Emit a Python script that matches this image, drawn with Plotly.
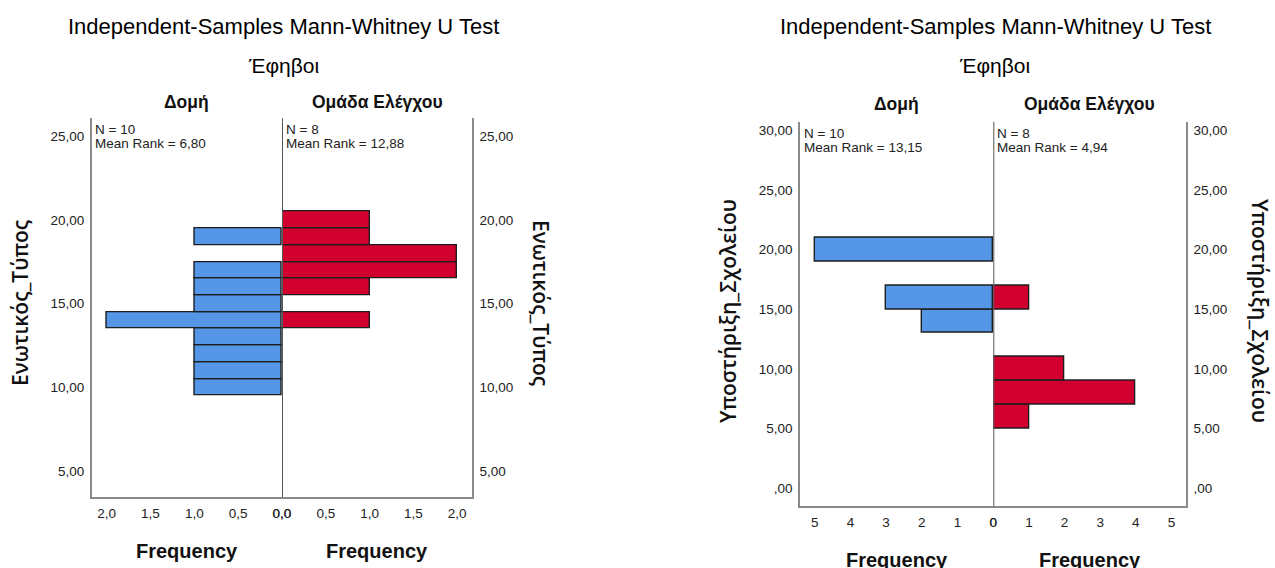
import plotly.graph_objects as go

W, H = 1275, 568

# Panel 1: Ενωτικός_Τύπος (bins of width 1)
bins_1 = [10, 11, 12, 13, 14, 15, 16, 17, 18, 19, 20]
domi_1 = [1, 1, 1, 1, 2, 1, 1, 1, 0, 1, 0]
elegxou_1 = [0, 0, 0, 0, 1, 0, 1, 2, 2, 1, 1]
stats_1 = {"domi": ("N = 10", "Mean Rank = 6,80"), "elegxou": ("N = 8", "Mean Rank = 12,88")}
ytick_vals_1 = [5, 10, 15, 20, 25]
ytick_text_1 = ["5,00", "10,00", "15,00", "20,00", "25,00"]
xtick_vals_1 = [0, 0.5, 1, 1.5, 2]
xtick_text_1 = ["0,0", "0,5", "1,0", "1,5", "2,0"]

# Panel 2: Υποστήριξη_Σχολείου (bins of width 2)
bins_2 = [6, 8, 10, 12, 14, 16, 18, 20]
domi_2 = [0, 0, 0, 0, 2, 3, 0, 5]
elegxou_2 = [1, 4, 2, 0, 0, 1, 0, 0]
stats_2 = {"domi": ("N = 10", "Mean Rank = 13,15"), "elegxou": ("N = 8", "Mean Rank = 4,94")}
ytick_vals_2 = [0, 5, 10, 15, 20, 25, 30]
ytick_text_2 = [",00", "5,00", "10,00", "15,00", "20,00", "25,00", "30,00"]
xtick_vals_2 = [0, 1, 2, 3, 4, 5]
xtick_text_2 = ["0", "1", "2", "3", "4", "5"]

BLUE = "#5596e6"
RED = "#d2002e"
EDGE = "#1e1e1e"
AXIS = "#8a8a8a"
CENTER = "#555555"
TICKFONT = dict(family="Liberation Sans, Arial", size=13.5, color="#222222")


def px(x):
    return x / W


def py(y):
    return 1 - y / H


def nonzero(bins, counts):
    pairs = [(b, c) for b, c in zip(bins, counts) if c > 0]
    return [p[0] for p in pairs], [p[1] for p in pairs]


fig = go.Figure()

panels = [
    dict(bins=bins_1, left=domi_1, right=elegxou_1, width=1, ax=("", "2"),
         x0=91.7, xc=282, x1=472, ytop=118.3, ybot=497,
         xr=2.17, yr=[3.44, 26.08],
         ytv=ytick_vals_1, ytt=ytick_text_1, xtv=xtick_vals_1, xtt=xtick_text_1,
         stats=stats_1, title_y=27, sub_y=66, grp_y=102, freq_y=551,
         ytitle="Ενωτικός_Τύπος", ytitle_xl=20, ytitle_xr=541, ytitle_y=303),
    dict(bins=bins_2, left=domi_2, right=elegxou_2, width=2, ax=("3", "4"),
         x0=800, xc=993.3, x1=1186, ytop=121.7, ybot=506,
         xr=5.41, yr=[-1.47, 30.7],
         ytv=ytick_vals_2, ytt=ytick_text_2, xtv=xtick_vals_2, xtt=xtick_text_2,
         stats=stats_2, title_y=27, sub_y=66, grp_y=104, freq_y=560,
         ytitle="Υποστήριξη_Σχολείου", ytitle_xl=728, ytitle_xr=1260, ytitle_y=311),
]

annotations = []
shapes = []
layout_axes = {}

for p in panels:
    a_l, a_r = p["ax"]
    xl, yl = "x" + a_l, "y" + a_l
    xr_, yr_ = "x" + a_r, "y" + a_r

    yb, cb = nonzero(p["bins"], p["left"])
    fig.add_trace(go.Bar(
        y=yb, x=cb, orientation="h", width=p["width"], xaxis=xl, yaxis=yl,
        marker=dict(color=BLUE, line=dict(color=EDGE, width=1.4)),
        showlegend=False, hoverinfo="skip"))
    yb, cb = nonzero(p["bins"], p["right"])
    fig.add_trace(go.Bar(
        y=yb, x=cb, orientation="h", width=p["width"], xaxis=xr_, yaxis=yr_,
        marker=dict(color=RED, line=dict(color=EDGE, width=1.4)),
        showlegend=False, hoverinfo="skip"))

    ydom = [py(p["ybot"]), py(p["ytop"])]
    common_x = dict(showgrid=False, zeroline=False, showline=True, linecolor=AXIS,
                    linewidth=1.5, ticks="outside", ticklen=3, tickcolor="rgba(0,0,0,0)",
                    tickfont=TICKFONT, fixedrange=True, automargin=False)
    common_y = dict(showgrid=False, zeroline=False, showline=True, linecolor=AXIS,
                    linewidth=1.5, ticks="outside", ticklen=3, tickcolor="rgba(0,0,0,0)",
                    tickfont=TICKFONT, range=p["yr"], domain=ydom,
                    tickvals=p["ytv"], ticktext=p["ytt"], fixedrange=True,
                    automargin=False)

    k_xl = "xaxis" + a_l
    k_xr = "xaxis" + a_r
    k_yl = "yaxis" + a_l
    k_yr = "yaxis" + a_r
    layout_axes[k_xl] = dict(common_x, domain=[px(p["x0"]), px(p["xc"])],
                             range=[p["xr"], 0], anchor=yl,
                             tickvals=p["xtv"], ticktext=p["xtt"])
    layout_axes[k_xr] = dict(common_x, domain=[px(p["xc"]), px(p["x1"])],
                             range=[0, p["xr"]], anchor=yr_,
                             tickvals=p["xtv"], ticktext=p["xtt"])
    layout_axes[k_yl] = dict(common_y, anchor=xl, side="left")
    layout_axes[k_yr] = dict(common_y, anchor=xr_, side="right")

    # central zero line shared by both halves
    shapes.append(dict(type="line", xref=xr_, x0=0, x1=0, yref=yr_ + " domain",
                       y0=0, y1=1, line=dict(color=CENTER, width=2)))

    cx = (p["x0"] + p["x1"]) / 2 + 2
    annotations.append(dict(x=px(cx), y=py(p["title_y"]), xref="paper", yref="paper",
                            text="Independent-Samples Mann-Whitney U Test", showarrow=False,
                            font=dict(family="Liberation Sans, Arial", size=22, color="#000000"),
                            xanchor="center", yanchor="middle"))
    annotations.append(dict(x=px(cx), y=py(p["sub_y"]), xref="paper", yref="paper",
                            text="Έφηβοι", showarrow=False,
                            font=dict(family="Liberation Sans, Arial", size=21, color="#000000"),
                            xanchor="center", yanchor="middle"))

    lx = (p["x0"] + p["xc"]) / 2
    rx = (p["xc"] + p["x1"]) / 2
    for gx, name in ((lx, "Δομή"), (rx, "Ομάδα Ελέγχου")):
        annotations.append(dict(x=px(gx), y=py(p["grp_y"]), xref="paper", yref="paper",
                                text=name, showarrow=False,
                                font=dict(family="Liberation Sans, Arial", size=17.5,
                                          color="#111111", weight="bold"),
                                xanchor="center", yanchor="middle"))
    for gx, name in ((lx, "Frequency"), (rx, "Frequency")):
        annotations.append(dict(x=px(gx), y=py(p["freq_y"]), xref="paper", yref="paper",
                                text=name, showarrow=False,
                                font=dict(family="Liberation Sans, Arial", size=20,
                                          color="#111111", weight="bold"),
                                xanchor="center", yanchor="middle"))

    for sx, key in ((p["x0"] + 1.5, "domi"), (p["xc"] + 1.5, "elegxou")):
        line_a, line_b = p["stats"][key]
        annotations.append(dict(x=px(sx), y=py(p["ytop"] + 11.5), xref="paper", yref="paper",
                                text=line_a, showarrow=False, font=TICKFONT,
                                xanchor="left", yanchor="middle"))
        annotations.append(dict(x=px(sx), y=py(p["ytop"] + 25.5), xref="paper", yref="paper",
                                text=line_b, showarrow=False, font=TICKFONT,
                                xanchor="left", yanchor="middle"))

    yfont = dict(family="Open Sans, Noto Sans", size=21, color="#111111", weight=600)
    annotations.append(dict(x=px(p["ytitle_xl"]), y=py(p["ytitle_y"]), xref="paper", yref="paper",
                            text=p["ytitle"], showarrow=False, font=yfont, textangle=-90,
                            xanchor="center", yanchor="middle"))
    annotations.append(dict(x=px(p["ytitle_xr"]), y=py(p["ytitle_y"]), xref="paper", yref="paper",
                            text=p["ytitle"], showarrow=False, font=yfont, textangle=90,
                            xanchor="center", yanchor="middle"))

fig.update_layout(
    width=W, height=H,
    margin=dict(l=0, r=0, t=0, b=0, autoexpand=False),
    paper_bgcolor="white", plot_bgcolor="white",
    bargap=0, barmode="overlay",
    annotations=annotations, shapes=shapes,
    **layout_axes,
)

fig.write_html(
    "out.html",
    config={"displayModeBar": False},
    post_script="document.body.style.margin='0';document.body.style.overflow='hidden';",
)
